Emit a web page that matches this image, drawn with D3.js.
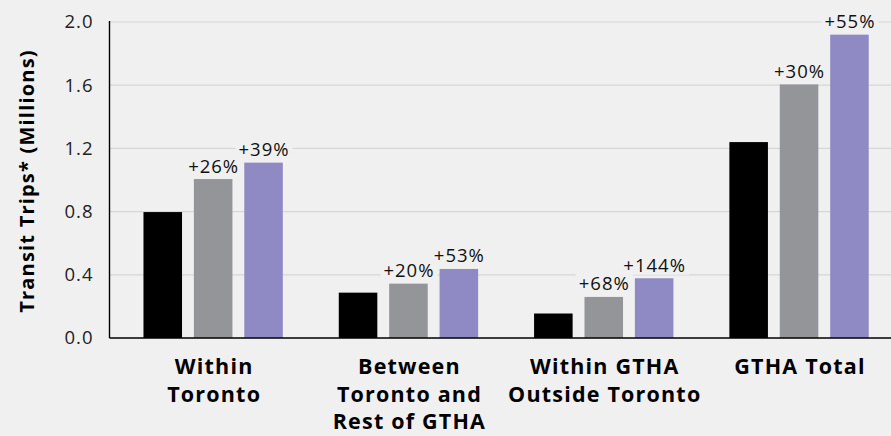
<!DOCTYPE html>
<html>
<head>
<meta charset="utf-8">
<script src="https://cdn.jsdelivr.net/npm/d3@7"></script>
<style>
  html, body { margin: 0; padding: 0; background: #f0f0f0; }
  svg { display: block; font-family: "Open Sans", Lato, sans-serif; }
</style>
</head>
<body>
<svg id="chart" width="891" height="436"></svg>
<script>
// Transit trips by travel pattern, three scenarios per group
const categories = [
  ["Within", "Toronto"],
  ["Between", "Toronto and", "Rest of GTHA"],
  ["Within GTHA", "Outside Toronto"],
  ["GTHA Total"]
];
const seriesNames = ["base", "scenarioA", "scenarioB"];
const seriesColors = ["#000000", "#939598", "#8f8ac3"];
const baseValues = [0.797, 0.287, 0.155, 1.24];
const scenarioAValues = [1.006, 0.344, 0.26, 1.605];
const scenarioBValues = [1.11, 0.437, 0.378, 1.92];
const scenarioALabels = ["+26%", "+20%", "+68%", "+30%"];
const scenarioBLabels = ["+39%", "+53%", "+144%", "+55%"];
const yTicks = [0, 0.4, 0.8, 1.2, 1.6, 2.0];

const svg = d3.select("#chart");
const width = 891, height = 436;
const margin = { top: 22, right: 0, bottom: 98, left: 109.5 };
const bg = "#f0f0f0";

const y = d3.scaleLinear().domain([0, 2.0]).range([338, 22]);
const x0 = d3.scaleBand().domain(d3.range(categories.length)).range([115.5, 896.7]);
const x1 = d3.scaleBand().domain(seriesNames).range([0, x0.bandwidth()])
  .paddingInner(0.235).paddingOuter(0.555);

const rows = categories.map((c, i) => ({
  i,
  bars: [
    { key: "base", value: baseValues[i], label: null },
    { key: "scenarioA", value: scenarioAValues[i], label: scenarioALabels[i] },
    { key: "scenarioB", value: scenarioBValues[i], label: scenarioBLabels[i] }
  ]
}));

// Gridlines
svg.append("g")
  .selectAll("line")
  .data(yTicks.filter(t => t > 0))
  .join("line")
  .attr("x1", margin.left)
  .attr("x2", width)
  .attr("y1", d => y(d))
  .attr("y2", d => y(d))
  .attr("stroke", "#d6d6d6")
  .attr("stroke-width", 1.2);

// Y axis
const yAxis = d3.axisLeft(y).tickValues(yTicks).tickFormat(d3.format(".1f")).tickSize(0).tickPadding(16);
const gy = svg.append("g").attr("transform", `translate(${margin.left},0)`).call(yAxis);
gy.select(".domain").remove();
gy.selectAll("text")
  .attr("font-size", 18.5)
  .attr("letter-spacing", 1)
  .attr("fill", "#222")
  .attr("font-family", "'Open Sans', sans-serif");

// Bars
const groups = svg.append("g")
  .selectAll("g")
  .data(rows)
  .join("g")
  .attr("transform", d => `translate(${x0(d.i)},0)`);

groups.selectAll("rect")
  .data(d => d.bars)
  .join("rect")
  .attr("x", d => x1(d.key))
  .attr("width", x1.bandwidth())
  .attr("y", d => y(d.value))
  .attr("height", d => y(0) - y(d.value))
  .attr("fill", (d, j) => seriesColors[j]);

// Value labels with background to mask gridlines
const labels = groups.selectAll("g.lbl")
  .data(d => d.bars.filter(b => b.label))
  .join("g")
  .attr("class", "lbl")
  .attr("transform", d => `translate(${x1(d.key) + x1.bandwidth() / 2 + 0.5},${y(d.value) - 6.5})`);

labels.append("text")
  .attr("text-anchor", "middle")
  .attr("font-size", 18.5)
  .attr("letter-spacing", 1)
  .attr("fill", "#111")
  .text(d => d.label);

labels.each(function() {
  const g = d3.select(this);
  const bb = g.select("text").node().getBBox();
  g.insert("rect", "text")
    .attr("x", bb.x - 3)
    .attr("y", bb.y + 2)
    .attr("width", bb.width + 6)
    .attr("height", bb.height - 4)
    .attr("fill", bg);
});

// Axis lines
svg.append("line")
  .attr("x1", margin.left)
  .attr("x2", width)
  .attr("y1", y(0))
  .attr("y2", y(0))
  .attr("stroke", "#000")
  .attr("stroke-width", 1.4);
svg.append("line")
  .attr("x1", margin.left)
  .attr("x2", margin.left)
  .attr("y1", 21)
  .attr("y2", y(0))
  .attr("stroke", "#000")
  .attr("stroke-width", 1.4);

// Category labels
svg.append("g")
  .selectAll("text")
  .data(categories)
  .join("text")
  .attr("x", (d, i) => x0(i) + x0.bandwidth() / 2 + 1)
  .attr("y", 374)
  .attr("text-anchor", "middle")
  .attr("font-size", 21.5)
  .attr("letter-spacing", 1.2)
  .attr("font-weight", "bold")
  .attr("fill", "#000")
  .selectAll("tspan")
  .data(d => d)
  .join("tspan")
  .attr("x", function() { return this.parentNode.getAttribute("x"); })
  .attr("dy", (d, k) => k === 0 ? 0 : 27.5)
  .text(d => d);

// Y axis title
svg.append("text")
  .attr("transform", `translate(34,181) rotate(-90)`)
  .attr("text-anchor", "middle")
  .attr("font-size", 20)
  .attr("letter-spacing", 1.2)
  .attr("font-weight", "bold")
  .attr("fill", "#000")
  .text("Transit Trips* (Millions)");
</script>
</body>
</html>
